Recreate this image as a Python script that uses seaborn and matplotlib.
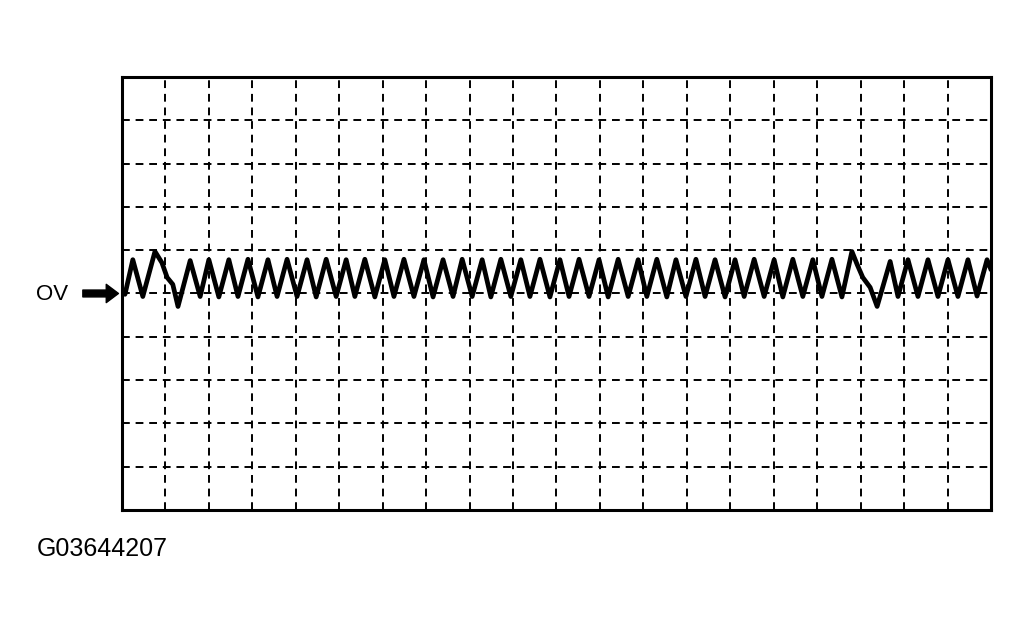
import numpy as np
import pandas as pd
import matplotlib
matplotlib.use("Agg")
import matplotlib.pyplot as plt
import seaborn as sns

# scope trace, in grid divisions (20 x 10 grid, 0V on the centre line)
wave_t = [0.07, 0.25, 0.48, 0.76, 0.92, 1.04, 1.17, 1.29,
          1.57, 1.80, 2.00, 2.23, 2.46, 2.67, 2.90, 3.13, 3.36, 3.57,
          3.80, 4.03, 4.26, 4.47, 4.70, 4.93, 5.16, 5.36, 5.59, 5.82,
          6.05, 6.26, 6.49, 6.72, 6.95, 7.16, 7.39, 7.62, 7.83, 8.06,
          8.29, 8.49, 8.72, 8.95, 9.18, 9.39, 9.62, 9.85, 10.08, 10.29,
          10.52, 10.75, 10.98, 11.19, 11.42, 11.65, 11.88, 12.08, 12.31, 12.54,
          12.75, 12.98, 13.21, 13.42, 13.65, 13.88, 14.11, 14.32, 14.55, 14.78,
          15.01, 15.21, 15.44, 15.67, 15.90, 16.11, 16.34, 16.57,
          16.80, 16.92, 17.05, 17.22, 17.38,
          17.68, 17.86, 18.09, 18.32, 18.55, 18.78, 19.01, 19.24, 19.47, 19.68, 19.91,
          20.00]
wave_v = [-0.02, 0.78, -0.07, 0.97, 0.71, 0.37, 0.21, -0.30,
          0.76, -0.07, 0.78, -0.08, 0.78, -0.07, 0.79, -0.08, 0.78, -0.07,
          0.79, -0.07, 0.78, -0.08, 0.79, -0.07, 0.78, -0.07, 0.79, -0.08,
          0.78, -0.07, 0.79, -0.07, 0.78, -0.08, 0.78, -0.07, 0.79, -0.07,
          0.78, -0.08, 0.79, -0.07, 0.78, -0.07, 0.79, -0.08, 0.78, -0.07,
          0.79, -0.07, 0.78, -0.08, 0.79, -0.07, 0.78, -0.07, 0.79, -0.08,
          0.78, -0.07, 0.79, -0.07, 0.78, -0.08, 0.78, -0.07, 0.79, -0.07,
          0.78, -0.08, 0.79, -0.07, 0.78, -0.07, 0.79, -0.08,
          0.97, 0.67, 0.37, 0.14, -0.30,
          0.74, -0.07, 0.78, -0.07, 0.78, -0.07, 0.78, -0.07, 0.78, -0.06, 0.78,
          0.55]

zero_label = "OV"
figure_id = "G03644207"

df = pd.DataFrame({"t": wave_t, "v": wave_v})

sns.set_style("white")
plt.rcParams["font.family"] = ["Liberation Sans", "DejaVu Sans"]
plt.rcParams["text.color"] = "black"

fig = plt.figure(figsize=(10.3, 6.31), dpi=100)
ax = fig.add_axes([0.1184, 0.1918, 0.8437, 0.6862])

sns.lineplot(data=df, x="t", y="v", ax=ax, sort=False, estimator=None,
             color="black", linewidth=3.4, solid_joinstyle="round",
             solid_capstyle="round")

ax.set_xlim(0, 20)
ax.set_ylim(-5, 5)
ax.set_xticks(np.arange(0, 21))
ax.set_yticks(np.arange(-5, 6))
ax.tick_params(length=0, labelbottom=False, labelleft=False)
ax.set_xlabel("")
ax.set_ylabel("")
ax.grid(True, color="black", linestyle=(0, (4, 3)), linewidth=1.4)
ax.set_axisbelow(True)
for s in ax.spines.values():
    s.set_visible(True)
    s.set_color("black")
    s.set_linewidth(2.2)

# 0V marker arrow
ax.annotate("", xy=(-0.08, 0), xytext=(-0.9, 0), annotation_clip=False,
            arrowprops=dict(arrowstyle="simple,head_length=0.8,head_width=1.2,tail_width=0.45",
                            color="black", mutation_scale=11, shrinkA=0, shrinkB=0))
fig.text(36 / 1030, 0.5325, zero_label, fontsize=16, va="center", ha="left",
         color="black")
fig.text(37 / 1030, 0.119, figure_id, fontsize=18, va="baseline", ha="left",
         color="black")

fig.savefig("out.png", dpi=100)
